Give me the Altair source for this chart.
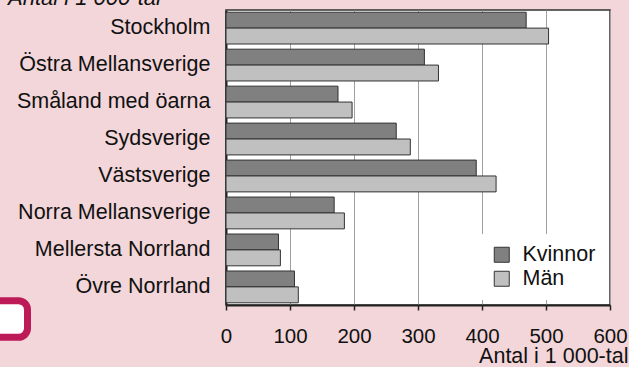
import altair as alt
import pandas as pd

# Population by region, thousands
regions = [
    "Stockholm",
    "Östra Mellansverige",
    "Småland med öarna",
    "Sydsverige",
    "Västsverige",
    "Norra Mellansverige",
    "Mellersta Norrland",
    "Övre Norrland",
]
kvinnor = [469, 310, 175, 266, 391, 169, 82, 107]
man = [504, 332, 197, 288, 422, 185, 85, 113]
series = ["Kvinnor", "Män"]
series_colors = ["#808080", "#c0c0c0"]
x_ticks = [0, 100, 200, 300, 400, 500, 600]

rows = []
for r, k, m in zip(regions, kvinnor, man):
    rows.append({"region": r, "kon": "Kvinnor", "antal": k})
    rows.append({"region": r, "kon": "Män", "antal": m})
df = pd.DataFrame(rows)

FONT = "Liberation Sans"
BG = "#f3d6d9"

bars = (
    alt.Chart(df)
    .mark_bar(stroke="#333333", strokeWidth=1)
    .encode(
        y=alt.Y(
            "region:N",
            sort=regions,
            scale=alt.Scale(paddingInner=0.14, paddingOuter=0.06),
            axis=alt.Axis(
                title=None,
                ticks=False,
                labelFontSize=21.5,
                labelFont=FONT,
                labelColor="#111111",
                labelPadding=16,
                labelLimit=300,
                domainColor="#222222",
                domainWidth=2,
                grid=False,
            ),
        ),
        yOffset=alt.YOffset(
            "kon:N", sort=series, scale=alt.Scale(paddingInner=0, paddingOuter=0)
        ),
        x=alt.X(
            "antal:Q",
            scale=alt.Scale(domain=[0, 600], nice=False),
            axis=alt.Axis(
                values=x_ticks,
                title="Antal i 1 000-tal",
                titleFont=FONT,
                titleFontSize=21.5,
                titleFontWeight="normal",
                titleColor="#111111",
                titleAlign="right",
                titleBaseline="alphabetic",
                titleX=402,
                titleY=57,
                labelFont=FONT,
                labelFontSize=20.5,
                labelColor="#111111",
                labelBaseline="alphabetic",
                labelPadding=32,
                labelFlush=False,
                tickSize=5,
                tickColor="#222222",
                tickWidth=1.5,
                domainColor="#222222",
                domainWidth=2,
                grid=True,
                gridColor="#a0a0a0",
                gridWidth=1,
            ),
        ),
        color=alt.Color(
            "kon:N",
            scale=alt.Scale(domain=series, range=series_colors),
            legend=alt.Legend(
                title=None,
                orient="none",
                legendX=255,
                legendY=224,
                padding=10,
                fillColor="white",
                symbolType="square",
                symbolSize=225,
                symbolStrokeColor="#333333",
                symbolStrokeWidth=1,
                labelFont=FONT,
                labelFontSize=21.5,
                labelColor="#111111",
                labelOffset=10,
                rowPadding=1,
            ),
        ),
    )
)

# Italic unit caption in the top-left corner
caption = (
    alt.Chart(pd.DataFrame({"t": ["Antal i 1 000-tal"]}))
    .mark_text(
        font=FONT,
        fontSize=22,
        fontStyle="italic",
        align="left",
        baseline="alphabetic",
        color="#111111",
    )
    .encode(x=alt.value(-218), y=alt.value(-5), text="t:N")
)

# Rounded magenta frame at the lower-left edge
frame = (
    alt.Chart(pd.DataFrame({"a": [0]}))
    .mark_rect(
        fill="white",
        stroke="#bd1a58",
        strokeWidth=7,
        cornerRadius=9,
    )
    .encode(
        x=alt.value(-250),
        x2=alt.value(-198.5),
        y=alt.value(290.7),
        y2=alt.value(327.3),
    )
)

chart = (
    alt.layer(bars, caption, frame)
    .properties(
        width=384,
        height=295,
        background=BG,
        padding={"left": 226, "top": 10, "right": 19, "bottom": 62},
        autosize=alt.AutoSizeParams(type="none"),
    )
    .configure_view(fill="white", stroke="#333333", strokeWidth=1.5)
)

chart.save("out.html", embed_options={"renderer": "svg", "actions": False})
